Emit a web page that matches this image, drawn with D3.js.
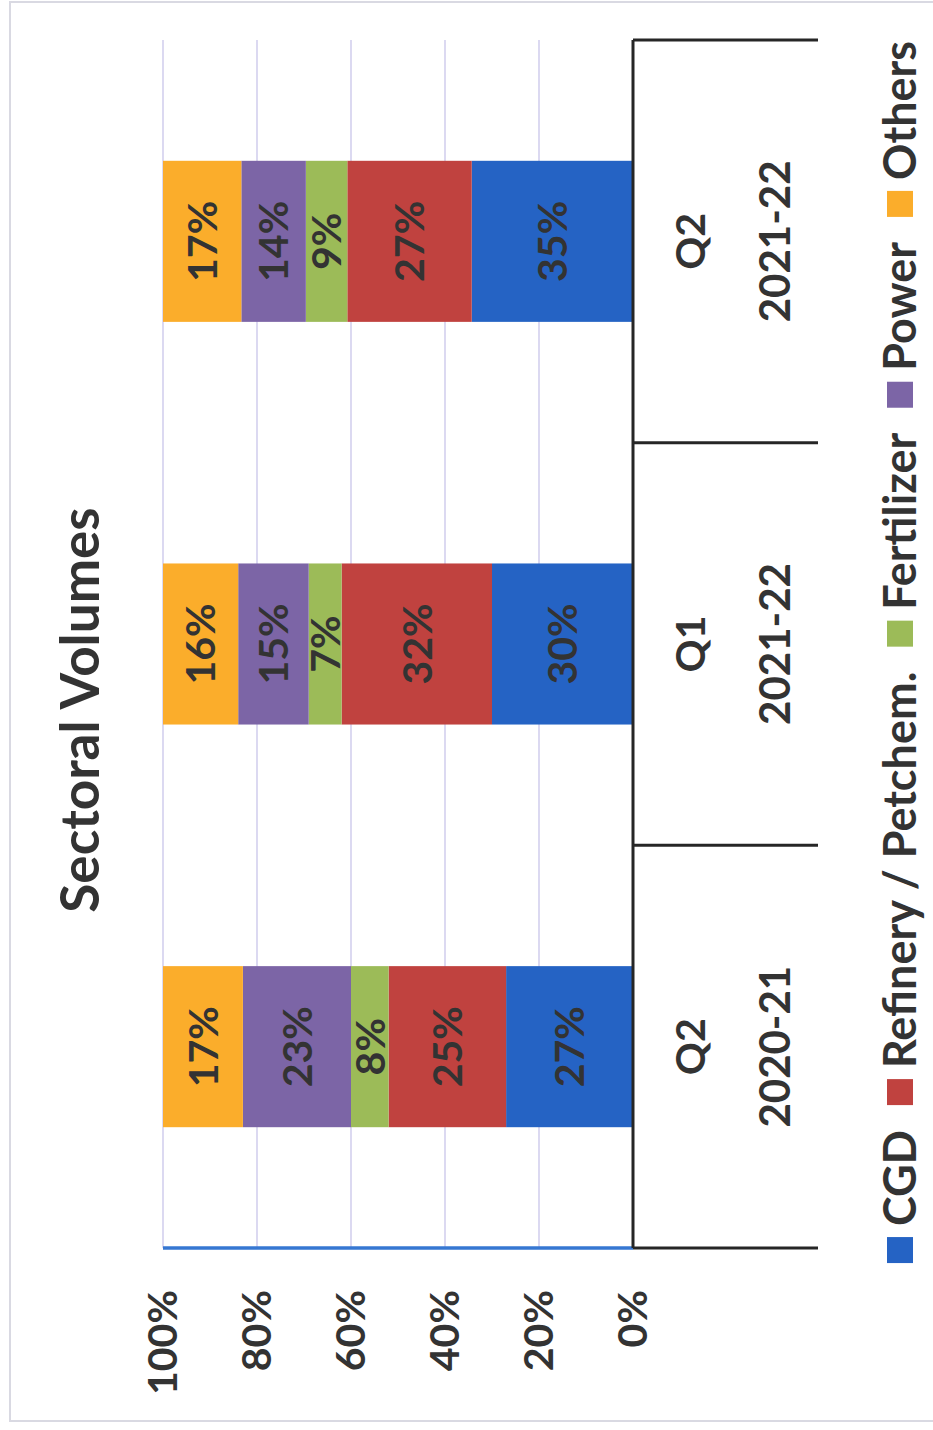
<!DOCTYPE html>
<html>
<head>
<meta charset="utf-8">
<script src="https://cdn.jsdelivr.net/npm/d3@7"></script>
<style>
  html, body { margin: 0; padding: 0; background: #ffffff; }
  svg { display: block; }
  text { font-family: Lato, "Open Sans", sans-serif; font-weight: 700; fill: #333333; }
</style>
</head>
<body>
<svg id="chart" width="933" height="1430"></svg>
<script>
// Category axis: quarter and financial year (two-level labels)
const quarters = ["Q2", "Q1", "Q2"];
const years = ["2020-21", "2021-22", "2021-22"];

// Sector shares (%) per quarter
const sectors = ["CGD", "Refinery / Petchem.", "Fertilizer", "Power", "Others"];
const cgd        = [27, 30, 35];
const refinery   = [25, 32, 27];
const fertilizer = [ 8,  7,  9];
const power      = [23, 15, 14];
const others     = [17, 16, 17];

// Value axis ticks (fraction of total)
const percentTicks = [0, 0.2, 0.4, 0.6, 0.8, 1];

const sectorColors = ["#2563c4", "#c0423f", "#9cbb58", "#7c65a6", "#fbad2b"];

const seriesValues = [cgd, refinery, fertilizer, power, others];
const rows = quarters.map((q, i) => {
  const r = { idx: i };
  sectors.forEach((s, k) => { r[s] = seriesValues[k][i]; });
  return r;
});

const svg = d3.select("#chart");

// outer chart frame
svg.append("rect")
  .attr("x", 10).attr("y", 2)
  .attr("width", 940).attr("height", 1419)
  .attr("fill", "none").attr("stroke", "#d9d9e2").attr("stroke-width", 2);

// The whole chart is laid out sideways: rotate the drawing frame by -90deg
const g = svg.append("g").attr("transform", "translate(0,1430) rotate(-90)");

const x = d3.scaleBand().domain(d3.range(quarters.length)).range([182, 1390]).padding(0);
const y = d3.scaleLinear().domain([0, 1]).range([633, 163]);
const barW = x.bandwidth() * 0.4;

// gridlines
g.append("g").selectAll("line")
  .data(percentTicks.filter(t => t > 0))
  .join("line")
  .attr("x1", x.range()[0]).attr("x2", x.range()[1])
  .attr("y1", d => y(d)).attr("y2", d => y(d))
  .attr("stroke", "#d3d0ee").attr("stroke-width", 1.6);

// stacked 100% bars
const stack = d3.stack().keys(sectors).offset(d3.stackOffsetExpand);
const layers = stack(rows);
const color = d3.scaleOrdinal().domain(sectors).range(sectorColors);

const layerG = g.append("g").selectAll("g")
  .data(layers)
  .join("g")
  .attr("fill", d => color(d.key));

layerG.selectAll("rect")
  .data(d => d)
  .join("rect")
  .attr("x", d => x(d.data.idx) + (x.bandwidth() - barW) / 2)
  .attr("width", barW)
  .attr("y", d => y(d[1]))
  .attr("height", d => y(d[0]) - y(d[1]));

// data labels
const labelG = g.append("g");
layers.forEach(layer => {
  layer.forEach(d => {
    labelG.append("text")
      .attr("x", x(d.data.idx) + x.bandwidth() / 2)
      .attr("y", (y(d[0]) + y(d[1])) / 2)
      .attr("dy", "0.36em")
      .attr("text-anchor", "middle")
      .attr("font-size", 41)
      .text(d.data[layer.key] + "%");
  });
});

// value axis line
g.append("line")
  .attr("x1", x.range()[0]).attr("x2", x.range()[0])
  .attr("y1", y(0)).attr("y2", y(1))
  .attr("stroke", "#3677d2").attr("stroke-width", 3.5);

// value axis labels
const yAxis = g.append("g")
  .attr("transform", `translate(${x.range()[0]},0)`)
  .call(d3.axisLeft(y).tickValues(percentTicks).tickFormat(d3.format(".0%")).tickSize(0).tickPadding(42));
yAxis.select(".domain").remove();
yAxis.selectAll("text")
  .attr("font-size", 41)
  .attr("font-family", null)
  .attr("fill", null);

// category axis line and group separators
g.append("line")
  .attr("x1", x.range()[0]).attr("x2", x.range()[1])
  .attr("y1", y(0)).attr("y2", y(0))
  .attr("stroke", "#262626").attr("stroke-width", 3);

const bounds = d3.range(quarters.length + 1).map(i => i < quarters.length ? x(i) : x.range()[1]);
g.append("g").selectAll("line")
  .data(bounds)
  .join("line")
  .attr("x1", d => d).attr("x2", d => d)
  .attr("y1", y(0)).attr("y2", 818)
  .attr("stroke", "#262626").attr("stroke-width", 3);

// category labels
const catG = g.append("g");
catG.selectAll("text.q")
  .data(quarters)
  .join("text")
  .attr("class", "q")
  .attr("x", (d, i) => x(i) + x.bandwidth() / 2)
  .attr("y", 690).attr("dy", "0.36em")
  .attr("text-anchor", "middle")
  .attr("font-size", 41)
  .text(d => d);
catG.selectAll("text.yr")
  .data(years)
  .join("text")
  .attr("class", "yr")
  .attr("x", (d, i) => x(i) + x.bandwidth() / 2)
  .attr("y", 775).attr("dy", "0.36em")
  .attr("text-anchor", "middle")
  .attr("font-size", 42)
  .text(d => d);

// title
g.append("text")
  .attr("x", 720).attr("y", 80).attr("dy", "0.36em")
  .attr("text-anchor", "middle")
  .attr("font-size", 53)
  .text("Sectoral Volumes");

// legend
const legG = g.append("g");
const sq = 26, gapSq = 11, gapItem = 25, legY = 900;
const items = legG.selectAll("g")
  .data(sectors)
  .join("g");
items.append("rect")
  .attr("width", sq).attr("height", sq)
  .attr("y", legY - sq / 2)
  .attr("fill", d => color(d));
items.append("text")
  .attr("x", sq + gapSq)
  .attr("y", legY).attr("dy", "0.36em")
  .attr("font-size", 45)
  .text(d => d);
let widths = [];
items.each(function () { widths.push(this.querySelector("text").getComputedTextLength()); });
const total = d3.sum(widths, w => sq + gapSq + w) + gapItem * (widths.length - 1);
let cursor = 778 - total / 2;
items.attr("transform", (d, i) => {
  const t = `translate(${cursor},0)`;
  cursor += sq + gapSq + widths[i] + gapItem;
  return t;
});
</script>
</body>
</html>
